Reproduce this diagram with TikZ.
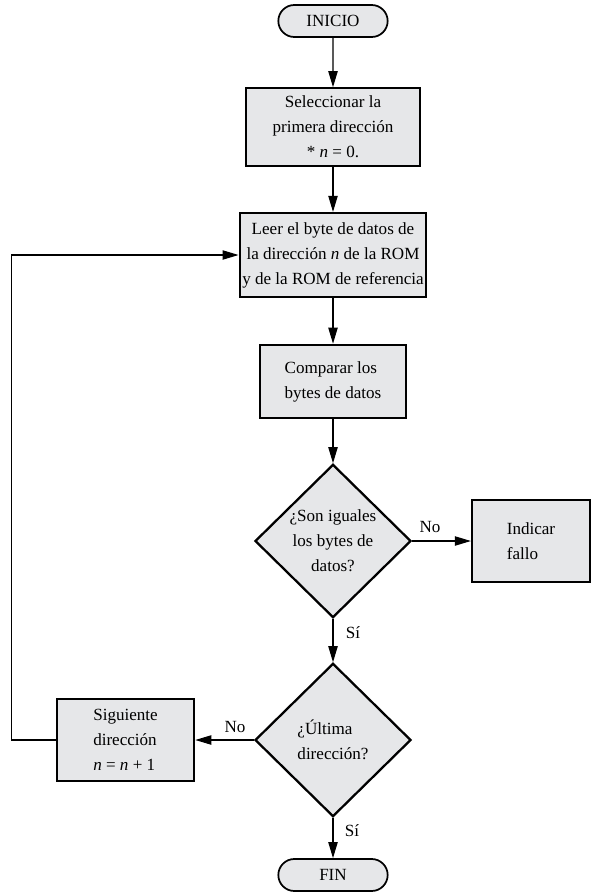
\documentclass[tikz,border=0pt]{standalone}
\usepackage{fontspec}
\setmainfont{Liberation Serif}
\usetikzlibrary{arrows.meta,shapes.geometric,shapes.misc}
\definecolor{cajagris}{RGB}{230,231,233}

\begin{document}
\begin{tikzpicture}[
  x=0.75pt,
  y=-0.75pt,
  font=\fontsize{12.8}{18.75}\selectfont,
  caja/.style={draw,line width=1.7pt,fill=cajagris,align=center,
    inner sep=0pt},
  terminal/.style={draw,line width=1.3pt,fill=cajagris,rounded rectangle,
    minimum width=82pt,minimum height=24pt,inner sep=0pt},
  decision/.style={draw,line width=1.7pt,fill=cajagris,diamond,aspect=1,
    align=center,inner sep=0pt,minimum width=117pt,minimum height=115pt},
  flecha/.style={-{Triangle[length=12pt,width=7pt]},line width=0.8pt}
]
  \useasboundingbox (0,0) rectangle (598,893);

  % Main column.
  \node[terminal] (inicio) at (333,21) {INICIO};
  \node[caja,minimum width=130pt,minimum height=58pt] (sel) at (333,127)
    {Seleccionar la\\primera dirección\\* \textit{n} = 0.};
  \node[caja,minimum width=140pt,minimum height=63pt] (leer) at (333,255)
    {Leer el byte de datos de\\la dirección \textit{n} de la ROM\\y de la ROM de referencia};
  \node[caja,align=left,minimum width=109pt,minimum height=55pt] (comp)
    at (333,381.5) {Comparar los\\bytes de datos};
  \node[decision] (q1) at (333,541) {¿Son iguales\\los bytes de\\datos?};
  \node[decision,align=left] (q2) at (333,740) {¿Última\\dirección?};
  \node[terminal] (fin) at (333,875) {FIN};

  % Side boxes.
  \node[caja,align=left,minimum width=88.5pt,minimum height=61pt] (fallo)
    at (531,541) {Indicar\\fallo};
  \node[caja,align=left,minimum width=103pt,minimum height=61pt] (sig)
    at (125.5,740) {Siguiente\\dirección\\\textit{n} = \textit{n} + 1};

  % Connectors.
  \draw[flecha] (inicio) -- (sel);
  \draw[flecha] (sel) -- (leer);
  \draw[flecha] (leer) -- (comp);
  \draw[flecha] (comp) -- (q1);
  \draw[flecha] (q1.east) -- (fallo.west);
  \draw[flecha] (q1.south) -- (q2.north);
  \draw[flecha] (q2.west) -- (sig.east);
  \draw[flecha] (q2.south) -- (fin.north);
  \draw[flecha] (sig.west) -- ++(-44,0) |- (leer.west);

  % Branch labels.
  \node (no1) at (430,527) {No};
  \node (si1) at (353,633) {Sí};
  \node (no2) at (235,727) {No};
  \node (si2) at (352,831) {Sí};
\end{tikzpicture}
\end{document}
